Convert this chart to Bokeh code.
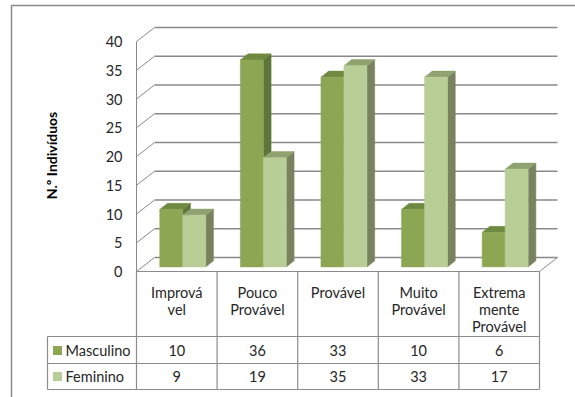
from bokeh.plotting import figure
from bokeh.models import Range1d
from bokeh.embed import file_html
from bokeh.resources import INLINE
from bokeh.core.properties import value

# ---------------- data ----------------
categories = ["Imprová\nvel", "Pouco\nProvável", "Provável", "Muito\nProvável", "Extrema\nmente\nProvável"]
series_names = ["Masculino", "Feminino"]
masculino = [10, 36, 33, 10, 6]
feminino = [9, 19, 35, 33, 17]
y_ticks = [0, 5, 10, 15, 20, 25, 30, 35, 40]
y_title = "N.º Indivíduos"

# ---------------- layout (pixels of the 575x397 page) ----------------
W, H = 575, 397
X0_PX, SX = 136.0, 80.6      # front-left corner x, px per category
Y0_PX, SY = 271.0, 5.75      # front baseline y, px per unit
DEPTH_PX = (18.0, 14.0)      # wall depth offset (right, up)
FONT = "Lato"
TXT = "#262626"
GRID = "#898989"
TABLE = "#8c8c8c"

M_FRONT, M_SIDE, M_TOP = "#8DA654", "#5F7439", "#6F8A40"
F_FRONT, F_SIDE, F_TOP = "#B9CE97", "#78825F", "#8FA26F"


def dx(px):
    return (px - X0_PX) / SX


def dy(py):
    return (Y0_PX - py) / SY


p = figure(width=W, height=H, output_backend="svg", toolbar_location=None,
           x_range=Range1d(dx(0), dx(W)), y_range=Range1d(dy(H), dy(0)),
           min_border=0, min_border_left=0, min_border_right=0,
           min_border_top=0, min_border_bottom=0)
p.axis.visible = False
p.grid.visible = False
p.outline_line_color = None
p.background_fill_color = "white"
p.border_fill_color = "white"

n = len(categories)
DX = DEPTH_PX[0] / SX
DY = DEPTH_PX[1] / SY
ymax = y_ticks[-1]

# outer chart frame (partly cropped)
p.line([dx(11), dx(11), dx(W)], [dy(H), dy(5), dy(5)], line_color="#8a8a8a", line_width=1.5)

# back wall gridlines
p.multi_line([[DX, n + DX] for v in y_ticks], [[v + DY, v + DY] for v in y_ticks],
             line_color=GRID, line_width=1.6)
# side wall diagonals
p.multi_line([[0, DX] for v in y_ticks], [[v, v + DY] for v in y_ticks],
             line_color=GRID, line_width=1)
# vertical front axis
p.line([0, 0], [0, ymax], line_color=GRID, line_width=1)
# floor front and right edges
p.line([0, n, n + DX], [0, 0, DY], line_color=GRID, line_width=1)

# ---------------- bars ----------------
BW = 23.0 / SX
fx, fy = 0.33 * DX, 0.33 * DY
bx, by = 0.43 * DX, 0.43 * DY

for s, (vals, cf, cs, ct) in enumerate([(masculino, M_FRONT, M_SIDE, M_TOP),
                                         (feminino, F_FRONT, F_SIDE, F_TOP)]):
    lefts = [i + 0.5 - BW + s * BW + fx for i in range(n)]
    rights = [l + BW for l in lefts]
    bottoms = [fy] * n
    tops = [v + fy for v in vals]
    side_x = [[r, r + bx, r + bx, r] for r in rights]
    side_y = [[b, b + by, t + by, t] for b, t in zip(bottoms, tops)]
    top_x = [[l, l + bx, r + bx, r] for l, r in zip(lefts, rights)]
    top_y = [[t, t + by, t + by, t] for t in tops]
    p.patches(side_x, side_y, fill_color=cs, line_color=cs, line_width=0.5)
    p.patches(top_x, top_y, fill_color=ct, line_color=ct, line_width=0.5)
    p.quad(left=lefts, right=rights, bottom=bottoms, top=tops,
           fill_color=cf, line_color=cf, line_width=0.5)

# ---------------- y tick labels & title ----------------
p.text(x=[dx(122)] * len(y_ticks), y=y_ticks, text=[str(v) for v in y_ticks],
       text_font=value(FONT), text_font_size="14.5px", text_color=TXT,
       text_align="right", text_baseline="middle")
p.text(x=[dx(51)], y=[dy(155)], text=[y_title], angle=1.5708,
       text_font=value(FONT), text_font_size="14px", text_font_style="bold",
       text_color="black", text_align="center", text_baseline="middle")

# ---------------- data table ----------------
row_top_px, row1_px, row2_px, row3_px = 271, 336, 363, 389
legend_left_px = 47
col_x = [i for i in range(n + 1)]
# vertical lines
p.multi_line([[c, c] for c in col_x], [[dy(row_top_px), dy(row3_px)] for c in col_x],
             line_color=TABLE, line_width=1.2)
p.line([dx(legend_left_px)] * 2, [dy(row1_px), dy(row3_px)], line_color=TABLE, line_width=1.2)
# horizontal lines
p.multi_line([[dx(legend_left_px), n]] * 3, [[dy(r), dy(r)] for r in (row1_px, row2_px, row3_px)],
             line_color=TABLE, line_width=1.2)

# header text
hx, hy, ht = [], [], []
for i, c in enumerate(categories):
    for k, line in enumerate(c.split("\n")):
        hx.append(i + 0.5)
        hy.append(dy(292 + 16.8 * k))
        ht.append(line)
p.text(x=hx, y=hy, text=ht, text_font=value(FONT), text_font_size="14.5px",
       text_color=TXT, text_align="center", text_baseline="middle")

# value rows
row_c = [dy(350), dy(376)]
for r, vals in enumerate([masculino, feminino]):
    p.text(x=[i + 0.5 for i in range(n)], y=[row_c[r]] * n, text=[str(v) for v in vals],
           text_font=value(FONT), text_font_size="14.5px", text_color=TXT,
           text_align="center", text_baseline="middle")

# legend keys in the table
p.rect(x=[dx(57), dx(57)], y=row_c, width=9 / SX, height=9 / SY,
       fill_color=[M_FRONT, F_FRONT], line_color=None)
p.text(x=[dx(65), dx(65)], y=row_c, text=series_names, text_font=value(FONT),
       text_font_size="14.5px", text_color=TXT, text_align="left", text_baseline="middle")

open("out.html", "w").write(file_html(p, INLINE))
